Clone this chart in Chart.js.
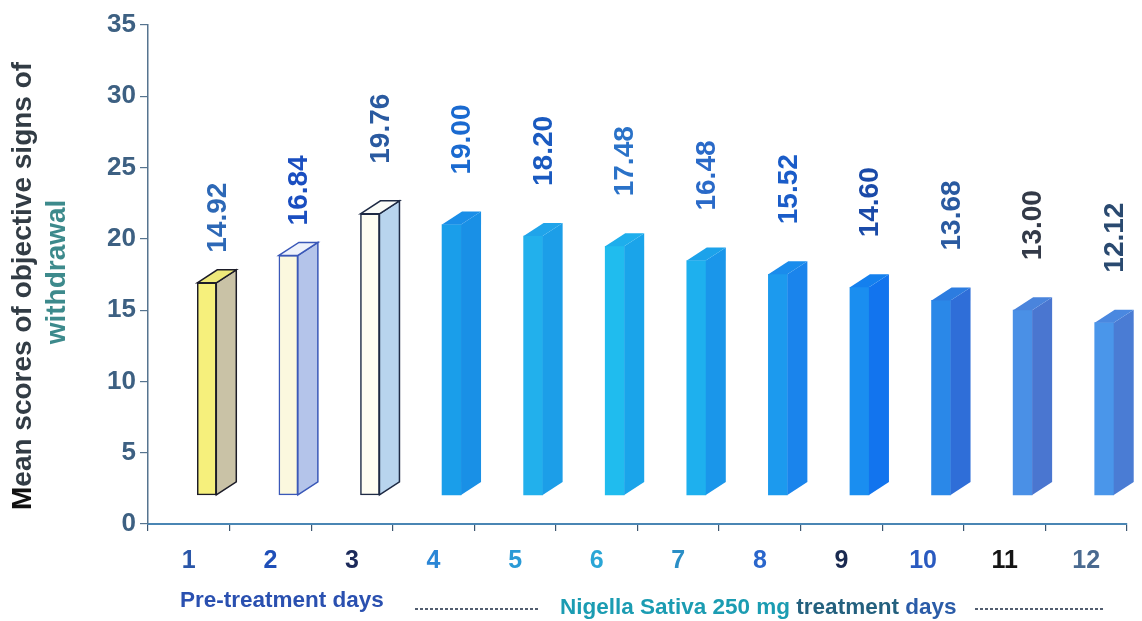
<!DOCTYPE html>
<html>
<head>
<meta charset="utf-8">
<script src="https://cdn.jsdelivr.net/npm/chart.js@4.4.1/dist/chart.umd.min.js"></script>
<style>
  html, body { margin: 0; padding: 0; background: #fff; }
  #chart { display: block; }
</style>
</head>
<body>
<canvas id="chart" width="1142" height="621"></canvas>
<script>
// data
const days = ["1", "2", "3", "4", "5", "6", "7", "8", "9", "10", "11", "12"];
const meanScores = [14.92, 16.84, 19.76, 19.00, 18.20, 17.48, 16.48, 15.52, 14.60, 13.68, 13.00, 12.12];
const yMin = 0, yMax = 35, yStep = 5;

// colours of each column (front / side / top / outline)
const frontColors = ["#f6f07c", "#fbf8de", "#fefdf2", "#1a9eea", "#22b0ec", "#20bcee", "#1eb0ee", "#1c9aee", "#1a8ef0", "#2a88e8", "#4a90e6", "#4a96ea"];
const sideColors  = ["#c9c2a6", "#b4c4ea", "#b8d4ee", "#1990e6", "#1c9ee8", "#1aa4ea", "#1a96ea", "#1a84ec", "#1274ee", "#2f6ed8", "#4a76d0", "#4a7cd4"];
const topColors   = ["#eee97a", "#eef2fb", "#fbfcf8", "#1a8ee8", "#20a4ea", "#1eaeec", "#1ca2ea", "#1a8cec", "#1480ee", "#2c7ce0", "#4a84dc", "#4a88e0"];
const edgeColors  = ["#1c1c28", "#3a58b8", "#1e2a44", null, null, null, null, null, null, null, null, null];
const valueColors = ["#2d68b6", "#1a4ec0", "#2a5aa0", "#1a6ad0", "#1a5ac0", "#2a72c8", "#2a6ac8", "#1a5cc8", "#1a4aa8", "#2a5aa0", "#333a48", "#2a4a70"];
const dayColors   = ["#2a56a8", "#1f4fb8", "#1c2a5a", "#2a86d6", "#2a9ad6", "#2aa6d6", "#2a8ec6", "#2a66cc", "#1a2a50", "#2a5ac0", "#141414", "#4a6a90"];

const FONT = "'Liberation Sans', Arial, sans-serif";

// 3D look: shift columns right and up, add side + top faces
const shiftX = 18, depthX = 20, depthY = 13, liftUnits = 2;

const bars3d = {
  id: 'bars3d',
  beforeDatasetsDraw(chart) {
    const y = chart.scales.y;
    const lift = y.getPixelForValue(0) - y.getPixelForValue(liftUnits);
    chart.ctx.save();
    chart.ctx.translate(shiftX, -lift);
  },
  afterDatasetsDraw(chart) {
    const ctx = chart.ctx;
    chart.getDatasetMeta(0).data.forEach((bar, i) => {
      const { x, y, base, width } = bar.getProps(['x', 'y', 'base', 'width'], true);
      const l = x - width / 2, r = x + width / 2;
      const edge = edgeColors[i];

      // side face
      ctx.beginPath();
      ctx.moveTo(r, y);
      ctx.lineTo(r + depthX, y - depthY);
      ctx.lineTo(r + depthX, base - depthY);
      ctx.lineTo(r, base);
      ctx.closePath();
      ctx.fillStyle = sideColors[i];
      ctx.fill();
      if (edge) { ctx.strokeStyle = edge; ctx.lineWidth = 1.5; ctx.stroke(); }

      // top face
      ctx.beginPath();
      ctx.moveTo(l, y);
      ctx.lineTo(l + depthX, y - depthY);
      ctx.lineTo(r + depthX, y - depthY);
      ctx.lineTo(r, y);
      ctx.closePath();
      ctx.fillStyle = topColors[i];
      ctx.fill();
      if (edge) { ctx.strokeStyle = edge; ctx.lineWidth = 1.5; ctx.stroke(); }

      // value label, rotated
      const gap = i < 2 ? 30 : 50;
      ctx.save();
      ctx.translate(x + 11, y - gap);
      ctx.rotate(-Math.PI / 2);
      ctx.font = "bold 28px " + FONT;
      ctx.fillStyle = valueColors[i];
      ctx.textAlign = 'left';
      ctx.textBaseline = 'middle';
      ctx.fillText(meanScores[i].toFixed(2), 0, 0);
      ctx.restore();
    });
    ctx.restore();
  }
};

// axis title (two lines, rotated) and the bottom captions
const captions = {
  id: 'captions',
  afterDraw(chart) {
    const ctx = chart.ctx;
    ctx.save();

    // y title
    ctx.save();
    ctx.translate(23, 510);
    ctx.rotate(-Math.PI / 2);
    ctx.font = "bold 28px " + FONT;
    ctx.textAlign = 'left';
    ctx.textBaseline = 'middle';
    ctx.fillStyle = "#111111";
    ctx.fillText("M", 0, 0);
    const mW = ctx.measureText("M").width;
    ctx.fillStyle = "#323c45";
    ctx.fillText("ean scores of objective signs of", mW, 0);
    ctx.restore();

    ctx.save();
    ctx.translate(57, 272);
    ctx.rotate(-Math.PI / 2);
    ctx.font = "bold 28px " + FONT;
    ctx.textAlign = 'center';
    ctx.textBaseline = 'middle';
    ctx.fillStyle = "#3d8a8c";
    ctx.fillText("withdrawal", 0, 0);
    ctx.restore();

    // bottom captions
    ctx.font = "bold 22.5px " + FONT;
    ctx.textAlign = 'left';
    ctx.textBaseline = 'alphabetic';
    ctx.fillStyle = "#2a50b0";
    ctx.fillText("Pre-treatment days", 180, 607);

    let x = 560;
    const parts = [["Nigella Sativa 250 mg ", "#1b9cb2"], ["treatment ", "#23607e"], ["days", "#2b5ca8"]];
    parts.forEach(([t, c]) => {
      ctx.fillStyle = c;
      ctx.fillText(t, x, 614);
      x += ctx.measureText(t).width;
    });

    ctx.strokeStyle = "#1a2840";
    ctx.lineWidth = 1.5;
    ctx.setLineDash([3, 2]);
    ctx.beginPath();
    ctx.moveTo(415, 609); ctx.lineTo(540, 609);
    ctx.moveTo(975, 609); ctx.lineTo(1105, 609);
    ctx.stroke();
    ctx.restore();
  }
};

new Chart(document.getElementById('chart'), {
  type: 'bar',
  data: {
    labels: days,
    datasets: [{
      data: meanScores,
      backgroundColor: frontColors,
      borderColor: edgeColors.map(c => c || 'rgba(0,0,0,0)'),
      borderWidth: edgeColors.map(c => c ? 1.5 : 0),
      borderSkipped: false,
      barThickness: 19,
      clip: false
    }]
  },
  options: {
    responsive: false,
    animation: false,
    devicePixelRatio: 1,
    layout: { padding: { left: 0, right: 15, top: 25, bottom: 0 } },
    plugins: { legend: { display: false }, tooltip: { enabled: false } },
    scales: {
      x: {
        afterFit(scale) { scale.height = 97; },
        grid: { drawOnChartArea: false, drawTicks: true, tickLength: 7, color: "#3c5670", lineWidth: 1.2 },
        border: { display: true, color: "#4a86b4", width: 2 },
        ticks: {
          padding: 15,
          font: { family: FONT, size: 25, weight: 'bold' },
          color: (ctx) => dayColors[ctx.index]
        }
      },
      y: {
        min: yMin,
        max: yMax,
        afterFit(scale) { scale.width = 148; },
        grid: { drawOnChartArea: false, drawTicks: true, tickLength: 8, color: "#56748f", lineWidth: 1.2 },
        border: { display: true, color: "#56748f", width: 1.5 },
        ticks: {
          stepSize: yStep,
          padding: 4,
          font: { family: FONT, size: 26, weight: 'bold' },
          color: "#3d6082"
        }
      }
    }
  },
  plugins: [bars3d, captions]
});
</script>
</body>
</html>
